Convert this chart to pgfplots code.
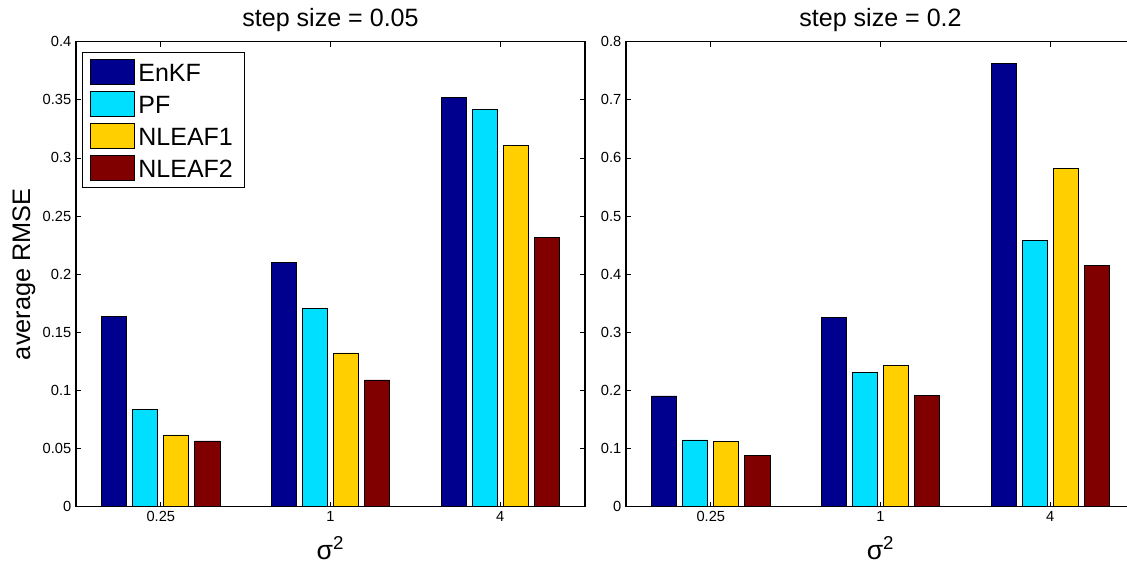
\documentclass[border=0pt]{standalone}
\usepackage{pgfplots}
\usepackage{pgfplotstable}
\pgfplotsset{compat=1.18}
\usepackage{fontspec}
\setmainfont{Liberation Sans}

\definecolor{c1}{rgb}{0,0,0.5625}
\definecolor{c2}{rgb}{0,0.875,1}
\definecolor{c3}{rgb}{1,0.8125,0}
\definecolor{c4}{rgb}{0.5,0,0}

\pgfplotstableread{
x EnKF PF NLEAF1 NLEAF2
1 0.1640 0.0837 0.0617 0.0565
2 0.2099 0.1703 0.1322 0.1090
3 0.3518 0.3420 0.3105 0.2314
}\leftdata

\pgfplotstableread{
x EnKF PF NLEAF1 NLEAF2
1 0.1904 0.1147 0.1124 0.0883
2 0.3252 0.2305 0.2426 0.1921
3 0.7627 0.4576 0.5815 0.4152
}\rightdata

\pgfplotsset{
 every axis title/.style={at={(axis description cs:0.5,1.0316)}, anchor=base, font=\fontsize{18.8}{20}\selectfont},
 rmsebase/.style={
  scale only axis, width=381.75pt, height=348.75pt,
  xmin=0.5, xmax=3.5, ymin=0,
  xtick={1,2,3}, xticklabels={0.25,1,4},
  axis line style={line width=0.8pt, black},
  tick align=inside, major tick length=3.75pt,
  tick style={black, line width=0.6pt},
  tick label style={font=\fontsize{11}{13}\selectfont},
  /pgf/number format/assume math mode=true,
  scaled y ticks=false,
  yticklabel style={/pgf/number format/fixed, /pgf/number format/precision=2},
  xlabel style={at={(axis description cs:0.5,-0.114)}, anchor=base, font=\fontsize{20}{22}\selectfont},
  xlabel={σ\textsuperscript{2}},
  bar width=0.1477,
  legend image code/.code={\draw[#1, line width=0.6pt] (0pt,-9.3pt) rectangle (33pt,9.45pt);},
 },
 b/.style={ybar, bar shift=#1, draw=black, line width=0.6pt},
}

\begin{document}
\begin{tikzpicture}
\begin{axis}[rmsebase, at={(57pt,43pt)}, anchor=south west,
  ymax=0.4, ytick={0,0.05,...,0.4},
  title={step size = 0.05},
  ylabel={average RMSE},
  ylabel style={at={(axis description cs:-0.1022,0.5)}, anchor=center, font=\fontsize{19}{20}\selectfont},
  legend style={at={(axis description cs:0.011,0.978)}, anchor=north west, draw=black, line width=0.8pt,
    font=\fontsize{18.75}{20}\selectfont, legend cell align=left, row sep=4.7pt,
    inner xsep=6pt, inner ysep=5pt, nodes={inner sep=2.6pt, text height=13.5pt, text depth=0pt}},
]
\addplot[b=-0.2745, fill=c1] table[x=x, y=EnKF] {\leftdata};
\addplot[b=-0.0915, fill=c2] table[x=x, y=PF] {\leftdata};
\addplot[b=0.0915, fill=c3] table[x=x, y=NLEAF1] {\leftdata};
\addplot[b=0.2745, fill=c4] table[x=x, y=NLEAF2] {\leftdata};
\legend{EnKF,PF,NLEAF1,NLEAF2}
\end{axis}
\begin{axis}[rmsebase, at={(469.5pt,43pt)}, anchor=south west,
  ymax=0.8, ytick={0,0.1,...,0.8},
  title={step size = 0.2},
]
\addplot[b=-0.2745, fill=c1] table[x=x, y=EnKF] {\rightdata};
\addplot[b=-0.0915, fill=c2] table[x=x, y=PF] {\rightdata};
\addplot[b=0.0915, fill=c3] table[x=x, y=NLEAF1] {\rightdata};
\addplot[b=0.2745, fill=c4] table[x=x, y=NLEAF2] {\rightdata};
\end{axis}
\pgfresetboundingbox
\useasboundingbox (0pt,0pt) rectangle (845.25pt,423pt);
\end{tikzpicture}
\end{document}
